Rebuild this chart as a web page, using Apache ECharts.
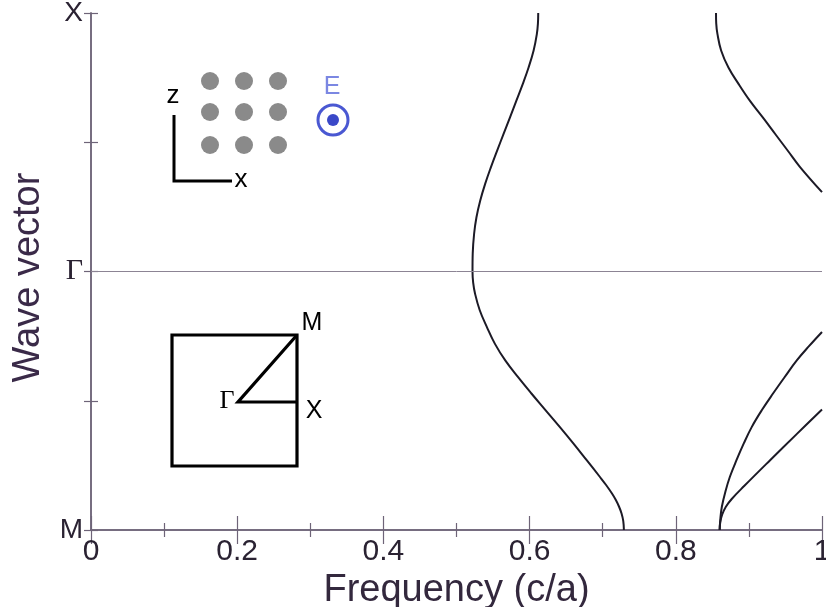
<!DOCTYPE html>
<html>
<head>
<meta charset="utf-8">
<script src="https://cdn.jsdelivr.net/npm/echarts@6/dist/echarts.min.js"></script>
<style>
  html, body { margin: 0; padding: 0; background: #ffffff; }
  #chart { width: 826px; height: 607px; }
</style>
</head>
<body>
<div id="chart"></div>
<script>
// ---- data (k: position along M(0) - Γ(1) - X(2); f: frequency in c/a) ----
const xTicks = [0, 0.2, 0.4, 0.6, 0.8, 1];
const yTickValues = [0, 1, 2];
const yTickLabels = ['M', 'Γ', 'X'];

const band1K = [0, 0.035, 0.064, 0.09, 0.116, 0.142, 0.175, 0.206, 0.27, 0.335, 0.399, 0.465, 0.528, 0.592, 0.656, 0.72, 0.785, 0.85, 0.914, 0.957, 1.0, 1.07, 1.146, 1.21, 1.274, 1.34, 1.403, 1.468, 1.532, 1.596, 1.66, 1.725, 1.789, 1.855, 1.918, 1.96, 2.0];
const band1F = [0.729, 0.7281, 0.7258, 0.7224, 0.718, 0.7125, 0.7044, 0.696, 0.6781, 0.6598, 0.6412, 0.6214, 0.6025, 0.584, 0.5667, 0.5526, 0.5416, 0.5318, 0.5254, 0.5228, 0.5219, 0.5222, 0.5241, 0.5273, 0.5324, 0.5393, 0.547, 0.5556, 0.5644, 0.5732, 0.5818, 0.5906, 0.5986, 0.6055, 0.6099, 0.6114, 0.6118];

const band2K = [2.0, 1.96, 1.918, 1.855, 1.789, 1.725, 1.66, 1.596, 1.532, 1.468, 1.404, 1.307];
const band2F = [0.855, 0.8553, 0.857, 0.862, 0.872, 0.886, 0.9015, 0.919, 0.936, 0.953, 0.970, 1.0];

const band3K = [0, 0.045, 0.09, 0.15, 0.206, 0.27, 0.335, 0.399, 0.465, 0.528, 0.592, 0.656, 0.711, 0.766];
const band3F = [0.860, 0.861, 0.863, 0.868, 0.874, 0.883, 0.893, 0.904, 0.918, 0.933, 0.949, 0.9655, 0.9822, 1.0];

const band4K = [0, 0.03, 0.06, 0.09, 0.12, 0.17, 0.27, 0.37, 0.466];
const band4F = [0.860, 0.8608, 0.8635, 0.8685, 0.8765, 0.8935, 0.929, 0.965, 1.0];

const gammaK = 1;

function pairs(fs, ks) { return fs.map((f, i) => [f, ks[i]]); }

const chart = echarts.init(document.getElementById('chart'), null, { renderer: 'canvas' });

const FONT = 'Liberation Sans, Arial, Helvetica, sans-serif';
const SERIF = 'Liberation Serif, Times New Roman, serif';
const AXIS_COLOR = '#6e6478';
const TEXT_COLOR = '#2a2232';
const CURVE = '#1c1a26';

const lineSeries = (name, data) => ({
  name, type: 'line', data, showSymbol: false, smooth: 0.4,
  lineStyle: { color: CURVE, width: 2 }, clip: true, silent: true
});

const option = {
  backgroundColor: '#ffffff',
  animation: false,
  grid: { left: 91, right: 4, top: 13, bottom: 77, containLabel: false, outerBoundsMode: 'none' },
  xAxis: [
    {
      type: 'value', min: 0, max: 1, interval: 0.2, position: 'bottom',
      name: 'Frequency (c/a)', nameLocation: 'middle', nameGap: 37,
      nameTextStyle: { fontFamily: FONT, fontSize: 38, color: '#33283d' },
      axisLine: { show: true, lineStyle: { color: AXIS_COLOR, width: 1.5 } },
      axisTick: { show: true, inside: true, length: 14, lineStyle: { color: AXIS_COLOR, width: 1.2 } },
      minorTick: { show: true, splitNumber: 2, length: 7, lineStyle: { color: AXIS_COLOR, width: 1.2 } },
      splitLine: { show: false },
      axisLabel: {
        fontFamily: FONT, fontSize: 30, color: TEXT_COLOR, margin: 7,
        formatter: v => { const t = xTicks.find(x => Math.abs(x - v) < 1e-9); return t === undefined ? '' : String(t); }
      }
    },
    {
      type: 'value', min: 0, max: 1, interval: 0.2, position: 'top',
      axisLine: { show: true, lineStyle: { color: AXIS_COLOR, width: 1.5 } },
      axisTick: { show: true, inside: true, length: 14, lineStyle: { color: AXIS_COLOR, width: 1.2 } },
      minorTick: { show: true, splitNumber: 2, length: 7, lineStyle: { color: AXIS_COLOR, width: 1.2 } },
      splitLine: { show: false }, axisLabel: { show: false }
    }
  ],
  yAxis: [
    {
      type: 'value', min: 0, max: 2, interval: 0.5, position: 'left',
      name: 'Wave vector', nameLocation: 'middle', nameGap: 43,
      nameTextStyle: { fontFamily: FONT, fontSize: 38, color: '#3a2a48', padding: [0, 12, 0, 0] },
      axisLine: { show: true, lineStyle: { color: AXIS_COLOR, width: 1.5 } },
      axisTick: { show: true, inside: true, length: 7, lineStyle: { color: AXIS_COLOR, width: 1.2 } },
      splitLine: { show: false },
      axisLabel: {
        fontFamily: FONT, fontSize: 28, color: TEXT_COLOR, margin: 8,
        formatter: v => {
          const i = yTickValues.findIndex(y => Math.abs(y - v) < 1e-9);
          if (i < 0) return '';
          return yTickLabels[i] === 'Γ' ? '{g|Γ}' : yTickLabels[i];
        },
        rich: { g: { fontFamily: SERIF, fontSize: 30, color: TEXT_COLOR } }
      }
    },
    {
      type: 'value', min: 0, max: 2, interval: 0.5, position: 'right',
      axisLine: { show: true, lineStyle: { color: AXIS_COLOR, width: 1.5 } },
      axisTick: { show: true, inside: true, length: 7, lineStyle: { color: AXIS_COLOR, width: 1.2 } },
      splitLine: { show: false }, axisLabel: { show: false }
    }
  ],
  series: [
    Object.assign(lineSeries('band1', pairs(band1F, band1K)), {
      markLine: {
        silent: true, symbol: 'none', animation: false,
        label: { show: false },
        lineStyle: { color: '#8c8494', width: 1, type: 'solid' },
        data: [{ yAxis: gammaK }]
      }
    }),
    lineSeries('band2', pairs(band2F, band2K)),
    lineSeries('band3', pairs(band3F, band3K)),
    lineSeries('band4', pairs(band4F, band4K))
  ],
  graphic: [
    // lattice of rods
    ...[210, 244, 278].flatMap(cx => [81, 112, 145].map(cy => ({
      type: 'circle', shape: { cx, cy, r: 9 }, style: { fill: '#8a8a8a' }, silent: true
    }))),
    // z-x axes
    { type: 'polyline', shape: { points: [[174, 115], [174, 181], [232, 181]] },
      style: { stroke: '#000', lineWidth: 3, fill: null }, silent: true },
    { type: 'text', x: 173, y: 96, style: { text: 'z', font: '26px ' + FONT, fill: '#000', align: 'center', verticalAlign: 'middle' }, silent: true },
    { type: 'text', x: 241, y: 180, style: { text: 'x', font: '26px ' + FONT, fill: '#000', align: 'center', verticalAlign: 'middle' }, silent: true },
    // E field out of plane
    { type: 'text', x: 332, y: 87, style: { text: 'E', font: '25px ' + FONT, fill: '#7b87e2', align: 'center', verticalAlign: 'middle' }, silent: true },
    { type: 'circle', shape: { cx: 333, cy: 120, r: 15 }, style: { fill: null, stroke: '#4a58d2', lineWidth: 3 }, silent: true },
    { type: 'circle', shape: { cx: 333, cy: 120, r: 6 }, style: { fill: '#3a48c8' }, silent: true },
    // Brillouin zone
    { type: 'rect', shape: { x: 172, y: 335, width: 125, height: 131 },
      style: { fill: null, stroke: '#000', lineWidth: 3.2 }, silent: true },
    { type: 'polyline', shape: { points: [[297, 335], [238, 402], [297, 402]] },
      style: { stroke: '#000', lineWidth: 3.2, fill: null }, silent: true },
    { type: 'text', x: 312, y: 323, style: { text: 'M', font: '25px ' + FONT, fill: '#000', align: 'center', verticalAlign: 'middle' }, silent: true },
    { type: 'text', x: 314, y: 411, style: { text: 'X', font: '25px ' + FONT, fill: '#000', align: 'center', verticalAlign: 'middle' }, silent: true },
    { type: 'text', x: 227, y: 401, style: { text: 'Γ', font: '26px ' + SERIF, fill: '#000', align: 'center', verticalAlign: 'middle' }, silent: true }
  ]
};

chart.setOption(option);
</script>
</body>
</html>
